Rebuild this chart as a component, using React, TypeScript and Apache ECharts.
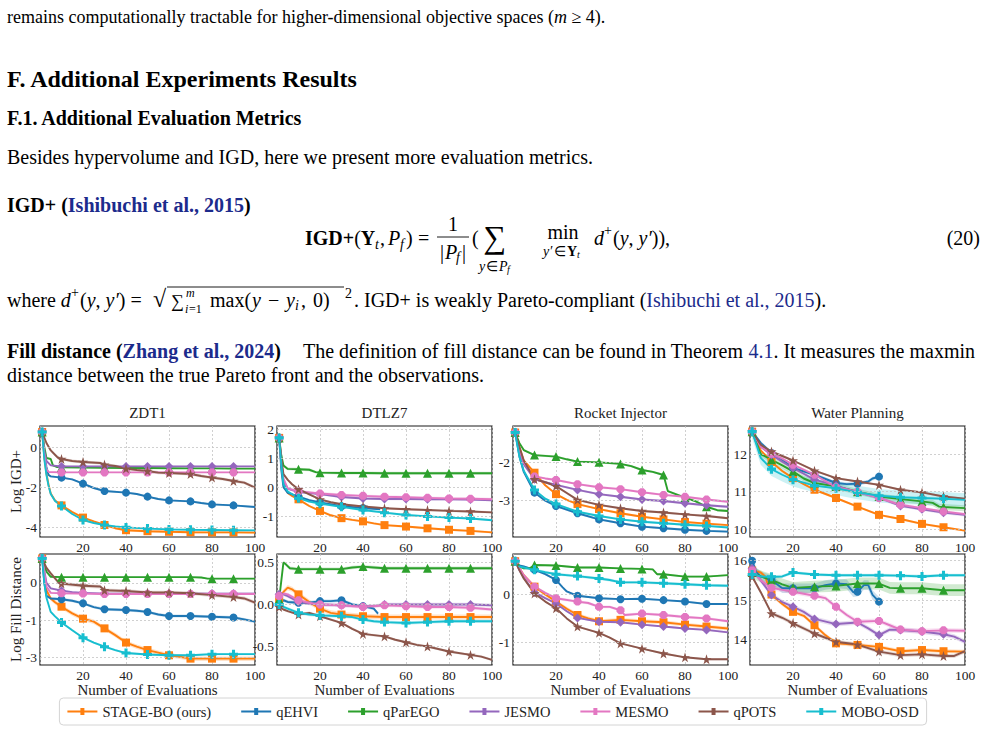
import React, { useEffect, useRef } from 'react';
import * as echarts from 'echarts';

const SERIF = "'Liberation Serif', 'Times New Roman', Times, serif";
const LINK = '#1c2b8c';

const methods = ['STAGE-BO (ours)', 'qEHVI', 'qParEGO', 'JESMO', 'MESMO', 'qPOTS', 'MOBO-OSD'];
const methodColors = ['#ff7f0e', '#1f77b4', '#2ca02c', '#9467bd', '#e377c2', '#8c564b', '#17becf'];
const OCTAGON = 'path://M30,0 H70 L100,30 V70 L70,100 H30 L0,70 V30 Z';
const STAR = 'path://M50,0 L61,35 L98,35 L68,57 L79,91 L50,70 L21,91 L32,57 L2,35 L39,35 Z';
const PLUS = 'path://M33,0 H67 V33 H100 V67 H67 V100 H33 V67 H0 V33 H33 Z';
const methodMarkers = ['rect', 'circle', 'triangle', 'diamond', OCTAGON, STAR, PLUS];
const markerSizes = [8, 8, 9, 9, 8, 10, 9];
const LEGEND_ICON = 'path://M0,4 H30 V6 H0 Z M13,1.5 H17 V8.5 H13 Z';

const problems = ['ZDT1', 'DTLZ7', 'Rocket Injector', 'Water Planning'];
const metricNames = ['Log IGD+', 'Log Fill Distance'];
const markerXs = [1, 10, 20, 30, 40, 50, 60, 70, 80, 90];

type Pt = [number, number];

// ---- Log IGD+ ----
const zdt1Igd: Pt[][] = [
  [[1, 0.75], [2, -0.5], [3, -1.33], [4, -1.9], [5, -2.33], [7, -2.67], [10, -2.92], [15, -3.25], [20, -3.53], [25, -3.72], [30, -3.9], [35, -4.06], [40, -4.16], [50, -4.21], [60, -4.24], [70, -4.26], [80, -4.27], [90, -4.27], [100, -4.28]],
  [[1, 0.75], [2, -0.3], [3, -1.0], [4, -1.4], [5, -1.47], [10, -1.53], [15, -1.62], [20, -1.83], [25, -2.05], [30, -2.2], [40, -2.28], [45, -2.35], [50, -2.48], [55, -2.6], [60, -2.67], [70, -2.72], [75, -2.8], [80, -2.87], [90, -2.92], [100, -3.0]],
  [[1, 0.75], [2, 0.0], [3, -0.55], [5, -0.6], [6, -0.92], [8, -1.0], [10, -1.02], [20, -1.03], [30, -1.04], [40, -1.05], [50, -1.05], [60, -1.06], [70, -1.07], [80, -1.07], [90, -1.08], [100, -1.08]],
  [[1, 0.75], [2, -0.2], [3, -0.7], [5, -0.92], [10, -0.97], [20, -0.97], [30, -0.97], [40, -0.97], [50, -0.97], [60, -0.97], [70, -0.97], [80, -0.97], [90, -0.97], [100, -0.97]],
  [[1, 0.75], [2, -0.4], [3, -1.1], [4, -1.25], [10, -1.27], [20, -1.27], [30, -1.27], [40, -1.27], [50, -1.27], [60, -1.27], [70, -1.27], [80, -1.27], [90, -1.27], [100, -1.27]],
  [[1, 0.75], [3, 0.2], [5, -0.17], [8, -0.5], [10, -0.6], [15, -0.7], [20, -0.75], [28, -0.8], [30, -0.88], [35, -0.95], [40, -1.08], [45, -1.15], [50, -1.2], [55, -1.28], [60, -1.3], [70, -1.35], [75, -1.45], [80, -1.53], [85, -1.6], [90, -1.7], [95, -1.78], [100, -2.03]],
  [[1, 0.75], [2, -0.6], [3, -1.4], [4, -1.95], [5, -2.35], [7, -2.7], [10, -2.95], [15, -3.35], [20, -3.65], [25, -3.8], [30, -3.9], [35, -3.97], [40, -4.02], [50, -4.08], [60, -4.12], [70, -4.14], [80, -4.15], [90, -4.16], [100, -4.17]],
];
const zdt1IgdBand = [0.06, 0.05, 0.03, 0.03, 0.03, 0.08, 0.04];

const dtlz7Igd: Pt[][] = [
  [[1, 1.7], [2, 0.8], [3, 0.1], [5, -0.2], [7, -0.3], [10, -0.42], [15, -0.65], [20, -0.82], [25, -0.97], [30, -1.07], [35, -1.13], [40, -1.18], [45, -1.25], [50, -1.31], [60, -1.36], [70, -1.42], [80, -1.47], [90, -1.51], [100, -1.56]],
  [[1, 1.7], [2, 0.6], [3, 0.0], [5, -0.2], [10, -0.33], [15, -0.45], [20, -0.53], [30, -0.66], [40, -0.72], [48, -0.76]],
  [[1, 1.7], [2, 1.1], [3, 0.75], [5, 0.63], [10, 0.62], [15, 0.6], [18, 0.52], [20, 0.5], [30, 0.49], [40, 0.49], [50, 0.48], [60, 0.48], [70, 0.48], [80, 0.48], [90, 0.48], [100, 0.48]],
  [[1, 1.7], [2, 0.8], [3, 0.2], [5, -0.05], [10, -0.17], [15, -0.2], [20, -0.24], [30, -0.34], [40, -0.39], [50, -0.41], [60, -0.41], [70, -0.42], [80, -0.42], [90, -0.43], [100, -0.45]],
  [[1, 1.7], [2, 0.9], [3, 0.3], [5, -0.05], [10, -0.14], [15, -0.18], [20, -0.22], [30, -0.27], [40, -0.3], [50, -0.33], [60, -0.35], [70, -0.37], [80, -0.39], [90, -0.4], [100, -0.42]],
  [[1, 1.7], [2, 1.0], [3, 0.45], [5, 0.25], [7, 0.1], [10, -0.07], [15, -0.25], [20, -0.42], [25, -0.52], [30, -0.59], [40, -0.67], [50, -0.73], [60, -0.76], [70, -0.79], [80, -0.82], [90, -0.84], [100, -0.87]],
  [[1, 1.7], [2, 0.8], [3, 0.1], [5, -0.15], [10, -0.38], [15, -0.5], [20, -0.57], [30, -0.68], [40, -0.79], [50, -0.88], [60, -0.96], [70, -1.01], [80, -1.05], [90, -1.08], [100, -1.14]],
];
const dtlz7IgdBand = [0.04, 0.04, 0.05, 0.04, 0.05, 0.04, 0.04];

const rocketIgd: Pt[][] = [
  [[1, -1.22], [3, -1.6], [5, -1.95], [10, -2.27], [15, -2.6], [20, -2.83], [25, -2.98], [30, -3.09], [40, -3.22], [50, -3.33], [60, -3.42], [70, -3.49], [80, -3.56], [90, -3.6], [100, -3.64]],
  [[1, -1.22], [3, -1.85], [5, -2.25], [10, -2.79], [15, -3.0], [20, -3.14], [30, -3.33], [40, -3.49], [50, -3.59], [60, -3.68], [70, -3.72], [80, -3.76], [90, -3.79], [100, -3.81]],
  [[1, -1.22], [3, -1.5], [5, -1.68], [10, -1.81], [20, -1.85], [25, -1.92], [30, -1.98], [40, -2.0], [50, -2.04], [55, -2.1], [60, -2.2], [65, -2.25], [70, -2.33], [72, -2.75], [80, -2.92], [85, -3.02], [90, -3.16], [95, -3.25], [100, -3.27]],
  [[1, -1.22], [3, -1.7], [5, -2.05], [10, -2.44], [15, -2.52], [20, -2.59], [30, -2.72], [40, -2.83], [50, -2.9], [60, -2.97], [70, -3.01], [80, -3.07], [90, -3.12], [100, -3.16]],
  [[1, -1.22], [3, -1.65], [5, -2.0], [10, -2.37], [15, -2.42], [20, -2.46], [30, -2.57], [40, -2.65], [50, -2.7], [60, -2.78], [70, -2.85], [80, -2.9], [90, -2.97], [100, -3.03]],
  [[1, -1.22], [3, -1.6], [5, -1.95], [10, -2.44], [15, -2.52], [20, -2.62], [25, -2.8], [30, -2.98], [40, -3.11], [50, -3.2], [60, -3.27], [70, -3.31], [80, -3.36], [90, -3.4], [100, -3.46]],
  [[1, -1.22], [3, -1.85], [5, -2.22], [10, -2.72], [15, -2.95], [20, -3.09], [30, -3.29], [40, -3.4], [50, -3.49], [60, -3.55], [70, -3.59], [80, -3.63], [90, -3.66], [100, -3.7]],
];
const rocketIgdBand = [0.03, 0.03, 0.03, 0.03, 0.03, 0.03, 0.03];

const waterIgd: Pt[][] = [
  [[1, 12.6], [5, 12.1], [10, 11.79], [15, 11.55], [20, 11.36], [25, 11.2], [30, 11.05], [40, 10.83], [50, 10.6], [60, 10.38], [70, 10.27], [80, 10.14], [90, 10.05], [100, 9.96]],
  [[1, 12.6], [5, 12.3], [10, 12.03], [15, 11.85], [20, 11.63], [30, 11.45], [40, 11.23], [45, 11.2], [50, 11.21], [55, 11.27], [57, 11.35], [60, 11.4]],
  [[1, 12.6], [5, 12.0], [10, 11.85], [15, 11.7], [20, 11.54], [25, 11.35], [30, 11.23], [40, 11.14], [50, 11.0], [60, 10.87], [70, 10.8], [80, 10.74], [85, 10.7], [88, 10.6], [90, 10.59], [100, 10.56]],
  [[1, 12.6], [5, 12.2], [10, 11.98], [15, 11.8], [20, 11.63], [30, 11.32], [40, 11.16], [50, 10.98], [60, 10.84], [70, 10.62], [80, 10.53], [90, 10.44], [100, 10.38]],
  [[1, 12.6], [5, 12.2], [10, 12.01], [15, 11.88], [20, 11.72], [30, 11.45], [40, 11.12], [50, 11.0], [60, 10.83], [70, 10.65], [80, 10.56], [90, 10.47], [100, 10.4]],
  [[1, 12.6], [5, 12.25], [10, 12.07], [15, 11.95], [20, 11.83], [30, 11.56], [40, 11.36], [50, 11.27], [60, 11.18], [70, 11.05], [80, 10.98], [90, 10.87], [100, 10.81]],
  [[1, 12.6], [5, 11.9], [10, 11.6], [15, 11.45], [20, 11.32], [30, 11.16], [40, 11.09], [50, 10.98], [60, 10.89], [70, 10.85], [80, 10.83], [90, 10.81], [100, 10.78]],
];
const waterIgdBand = [0.03, 0.05, 0.08, 0.04, 0.04, 0.03, 0.18];

// ---- Log Fill Distance ----
const zdt1Fill: Pt[][] = [
  [[1, 0.65], [2, 0.2], [3, -0.2], [5, -0.42], [7, -0.52], [10, -0.64], [15, -0.82], [20, -0.96], [25, -1.04], [30, -1.22], [35, -1.4], [40, -1.6], [45, -1.71], [50, -1.8], [55, -1.87], [60, -1.94], [65, -1.98], [70, -2.03], [80, -2.03], [90, -2.03], [100, -2.03]],
  [[1, 0.65], [2, 0.0], [3, -0.35], [5, -0.42], [10, -0.44], [15, -0.48], [20, -0.55], [25, -0.65], [30, -0.71], [40, -0.73], [45, -0.75], [50, -0.78], [55, -0.85], [60, -0.89], [70, -0.89], [80, -0.91], [90, -0.93], [95, -0.98], [100, -1.04]],
  [[1, 0.65], [3, 0.3], [5, 0.16], [10, 0.15], [20, 0.15], [30, 0.15], [40, 0.15], [50, 0.15], [60, 0.15], [70, 0.15], [75, 0.14], [78, 0.11], [80, 0.11], [90, 0.11], [100, 0.11]],
  [[1, 0.65], [3, 0.0], [5, -0.15], [10, -0.21], [15, -0.25], [20, -0.27], [30, -0.29], [40, -0.29], [50, -0.29], [60, -0.29], [70, -0.29], [80, -0.29], [90, -0.29], [100, -0.29]],
  [[1, 0.65], [3, -0.1], [5, -0.27], [10, -0.28], [20, -0.29], [30, -0.3], [40, -0.3], [50, -0.3], [60, -0.3], [70, -0.3], [80, -0.3], [90, -0.3], [100, -0.3]],
  [[1, 0.65], [3, 0.4], [5, 0.25], [8, 0.05], [10, -0.02], [20, -0.08], [28, -0.1], [30, -0.2], [40, -0.22], [50, -0.26], [60, -0.26], [70, -0.28], [80, -0.33], [90, -0.38], [95, -0.42], [100, -0.53]],
  [[1, 0.65], [2, 0.0], [3, -0.4], [5, -0.78], [7, -0.9], [10, -1.06], [15, -1.27], [20, -1.47], [25, -1.6], [30, -1.71], [35, -1.8], [40, -1.88], [50, -1.92], [60, -1.94], [70, -1.94], [80, -1.91], [90, -1.91], [100, -1.91]],
];
const zdt1FillBand = [0.06, 0.04, 0.02, 0.03, 0.03, 0.05, 0.03];

const dtlz7Fill: Pt[][] = [
  [[1, 0.05], [3, 0.15], [5, 0.2], [7, 0.18], [10, 0.12], [15, 0.03], [20, -0.05], [25, -0.1], [30, -0.12], [40, -0.14], [50, -0.15], [60, -0.15], [70, -0.15], [80, -0.15], [90, -0.15], [100, -0.15]],
  [[1, 0.0], [3, 0.05], [5, 0.03], [10, 0.02], [15, 0.02], [20, 0.04], [25, 0.04], [30, 0.05], [35, 0.0], [40, -0.02], [45, -0.05], [47, -0.11]],
  [[1, 0.06], [3, 0.5], [4, 0.48], [6, 0.43], [10, 0.42], [20, 0.42], [30, 0.42], [35, 0.44], [40, 0.45], [45, 0.44], [50, 0.43], [60, 0.43], [70, 0.43], [80, 0.43], [90, 0.43], [100, 0.43]],
  [[1, 0.12], [3, 0.12], [5, 0.1], [10, 0.03], [15, 0.01], [20, 0.0], [30, -0.01], [40, -0.02], [45, -0.02], [50, 0.0], [60, 0.0], [70, 0.0], [80, 0.0], [90, 0.0], [100, -0.01]],
  [[1, 0.1], [3, 0.13], [5, 0.12], [10, 0.05], [15, 0.02], [20, 0.0], [30, -0.01], [40, -0.03], [50, -0.01], [60, -0.02], [70, -0.03], [80, -0.03], [90, -0.04], [100, -0.06]],
  [[1, -0.03], [3, -0.06], [5, -0.08], [10, -0.12], [15, -0.1], [20, -0.14], [25, -0.18], [30, -0.22], [35, -0.29], [40, -0.35], [50, -0.38], [55, -0.42], [60, -0.45], [65, -0.48], [70, -0.5], [75, -0.53], [80, -0.56], [90, -0.6], [95, -0.62], [100, -0.66]],
  [[1, 0.0], [3, -0.03], [5, -0.05], [10, -0.1], [15, -0.12], [20, -0.13], [30, -0.14], [35, -0.15], [40, -0.18], [45, -0.2], [50, -0.21], [60, -0.22], [70, -0.21], [80, -0.2], [90, -0.2], [100, -0.2]],
];
const dtlz7FillBand = [0.03, 0.02, 0.02, 0.02, 0.02, 0.015, 0.02];

const rocketFill: Pt[][] = [
  [[1, 0.69], [3, 0.55], [5, 0.4], [10, 0.16], [15, 0.0], [20, -0.15], [25, -0.3], [30, -0.43], [35, -0.5], [40, -0.56], [50, -0.53], [60, -0.56], [70, -0.58], [80, -0.63], [90, -0.67], [100, -0.71]],
  [[1, 0.69], [3, 0.6], [5, 0.58], [10, 0.51], [15, 0.42], [20, 0.3], [23, 0.15], [25, 0.06], [30, -0.03], [40, -0.08], [50, -0.1], [60, -0.09], [70, -0.12], [80, -0.15], [90, -0.2], [100, -0.2]],
  [[1, 0.69], [3, 0.58], [5, 0.54], [8, 0.55], [10, 0.61], [20, 0.6], [30, 0.56], [40, 0.56], [50, 0.54], [60, 0.53], [65, 0.52], [67, 0.42], [70, 0.42], [80, 0.37], [90, 0.37], [100, 0.4]],
  [[1, 0.69], [3, 0.5], [5, 0.35], [10, 0.04], [15, -0.08], [20, -0.19], [25, -0.35], [30, -0.49], [40, -0.57], [50, -0.58], [60, -0.63], [70, -0.67], [80, -0.71], [90, -0.74], [100, -0.79]],
  [[1, 0.69], [3, 0.55], [5, 0.4], [10, 0.16], [15, 0.03], [20, -0.08], [30, -0.15], [35, -0.18], [40, -0.26], [45, -0.26], [50, -0.33], [52, -0.43], [60, -0.4], [70, -0.43], [80, -0.47], [90, -0.5], [100, -0.56]],
  [[1, 0.69], [3, 0.5], [5, 0.33], [10, 0.02], [15, -0.15], [20, -0.29], [25, -0.5], [30, -0.67], [40, -0.8], [45, -0.9], [50, -1.02], [60, -1.13], [70, -1.23], [80, -1.31], [90, -1.35], [100, -1.35]],
  [[1, 0.69], [3, 0.58], [5, 0.56], [10, 0.51], [15, 0.46], [20, 0.42], [30, 0.38], [40, 0.33], [45, 0.3], [50, 0.25], [60, 0.25], [70, 0.23], [80, 0.21], [90, 0.19], [100, 0.18]],
];
const rocketFillBand = [0.04, 0.02, 0.02, 0.02, 0.03, 0.02, 0.03];

const waterFill: Pt[][] = [
  [[1, 15.75], [5, 15.7], [7, 15.6], [10, 15.14], [15, 14.9], [20, 14.7], [25, 14.6], [30, 14.36], [35, 14.11], [40, 13.9], [50, 13.86], [60, 13.81], [70, 13.7], [80, 13.73], [90, 13.7], [100, 13.69]],
  [[1, 16.0], [3, 15.7], [5, 15.6], [10, 15.51], [15, 15.3], [20, 15.3], [30, 15.3], [35, 15.38], [40, 15.42], [45, 15.4], [48, 15.2], [50, 15.21], [53, 15.38], [55, 15.38], [57, 15.13], [60, 14.96]],
  [[1, 15.7], [5, 15.6], [10, 15.51], [15, 15.4], [20, 15.31], [30, 15.34], [40, 15.36], [50, 15.42], [60, 15.42], [65, 15.31], [70, 15.3], [80, 15.3], [90, 15.25], [100, 15.25]],
  [[1, 15.8], [5, 15.5], [10, 15.13], [15, 14.95], [20, 14.83], [25, 14.7], [30, 14.52], [40, 14.39], [50, 14.43], [55, 14.28], [60, 14.11], [65, 14.25], [70, 14.24], [80, 14.2], [90, 14.13], [95, 14.07], [100, 13.94]],
  [[1, 15.75], [5, 15.5], [10, 15.31], [20, 15.21], [30, 15.11], [35, 15.05], [40, 14.83], [45, 14.62], [50, 14.45], [60, 14.47], [65, 14.36], [70, 14.25], [80, 14.21], [90, 14.23], [100, 14.22]],
  [[1, 15.6], [5, 15.2], [10, 14.66], [15, 14.55], [20, 14.41], [30, 14.15], [40, 13.94], [50, 13.87], [55, 13.78], [60, 13.69], [70, 13.6], [80, 13.62], [90, 13.58], [95, 13.58], [100, 13.7]],
  [[1, 15.65], [5, 15.6], [10, 15.59], [15, 15.6], [20, 15.7], [30, 15.65], [40, 15.63], [50, 15.63], [60, 15.63], [70, 15.62], [80, 15.6], [90, 15.63], [100, 15.63]],
];
const waterFillBand = [0.05, 0.12, 0.15, 0.06, 0.06, 0.05, 0.04];

// axis limits and labelled y ticks of each panel (row by row)
const yRanges: Pt[] = [[-4.5, 1.05], [-1.72, 2.11], [-3.95, -1.05], [9.79, 12.75], [-2.2, 0.77], [-0.72, 0.6], [-1.47, 0.84], [13.35, 16.17]];
const yTickValues = [[-4, -2, 0], [-1, 0, 1, 2], [-3, -2], [10, 11, 12], [-2, -1, 0], [-0.5, 0, 0.5], [-1, 0], [14, 15, 16]];
const yTickLabels = [['-4', '-2', '0'], ['-1', '0', '1', '2'], ['-3', '-2'], ['10', '11', '12'], ['-3', '-1', '0'], ['-0.5', '0.0', '0.5'], ['-1', '0'], ['14', '15', '16']];

const panelData = [zdt1Igd, dtlz7Igd, rocketIgd, waterIgd, zdt1Fill, dtlz7Fill, rocketFill, waterFill];
const panelBands = [zdt1IgdBand, dtlz7IgdBand, rocketIgdBand, waterIgdBand, zdt1FillBand, dtlz7FillBand, rocketFillBand, waterFillBand];

// layout of the 2 x 4 panel grid
const COL_LEFT = [40, 277, 513, 750];
const ROW_TOP = [426, 554];
const PANEL_W = 215;
const PANEL_H = 111;

function rgba(hex: string, a: number) {
  const n = parseInt(hex.slice(1), 16);
  return `rgba(${(n >> 16) & 255},${(n >> 8) & 255},${n & 255},${a})`;
}

type TOpts = { size?: number; bold?: boolean; italic?: boolean; color?: string; align?: string };
function t(text: string, x: number, y: number, o: TOpts = {}) {
  return {
    type: 'text', x, y, silent: true,
    style: {
      text, fill: o.color || '#000', fontSize: o.size || 20, fontFamily: SERIF,
      fontWeight: o.bold ? 'bold' : 'normal', fontStyle: o.italic ? 'italic' : 'normal',
      align: o.align || 'left', verticalAlign: 'middle',
    },
  };
}
function rich(text: string, x: number, y: number, size = 20) {
  const base = { fontFamily: SERIF, fontSize: size, fill: '#000' };
  return {
    type: 'text', x, y, silent: true,
    style: {
      text, fontFamily: SERIF, fontSize: size, fill: '#000', align: 'left', verticalAlign: 'middle',
      rich: {
        n: { ...base },
        i: { ...base, fontStyle: 'italic' },
        b: { ...base, fontWeight: 'bold' },
        l: { ...base, fill: LINK },
        bl: { ...base, fontWeight: 'bold', fill: LINK },
      },
    },
  };
}
function hline(x1: number, x2: number, y: number, w = 0.9) {
  return { type: 'line', silent: true, shape: { x1, y1: y, x2, y2: y }, style: { stroke: '#000', lineWidth: w } };
}

function pageText() {
  return [
    rich('{n|remains computationally tractable for higher-dimensional objective spaces (}{i|m}{n| ≥ 4).}', 7, 17, 18),
    t('F. Additional Experiments Results', 7, 79, { size: 24, bold: true }),
    t('F.1. Additional Evaluation Metrics', 7, 118, { size: 20, bold: true }),
    t('Besides hypervolume and IGD, here we present more evaluation metrics.', 7, 157),
    rich('{b|IGD+ (}{bl|Ishibuchi et al., 2015}{b|)}', 7, 205),
    // equation (20)
    rich('{b|IGD+}{n|(}{b|Y}', 305, 238),
    t('t', 375, 244, { size: 14, italic: true }),
    t(',', 380, 238),
    t('P', 388, 238, { italic: true }),
    t('f', 400, 244, { size: 14, italic: true }),
    t(')', 406, 238),
    t('=', 418, 238),
    t('1', 453, 224, { align: 'center' }),
    hline(437, 469, 237),
    t('|', 440, 252), t('P', 445, 252, { italic: true }), t('f', 456, 257, { size: 14, italic: true }), t('|', 462, 252),
    t('(', 472, 238),
    t('∑', 495, 237, { size: 32, align: 'center' }),
    t('y', 479, 266, { size: 14, italic: true }), t('∈', 486, 266, { size: 14 }), t('P', 499, 266, { size: 14, italic: true }), t('f', 507, 269, { size: 10, italic: true }),
    t('min', 563, 232, { align: 'center' }),
    t('y′', 543, 251, { size: 14, italic: true }), t('∈', 554, 251, { size: 14 }), t('Y', 567, 251, { size: 14, bold: true }), t('t', 577, 254, { size: 10, italic: true }),
    t('d', 594, 238, { italic: true }),
    t('+', 604, 230, { size: 14 }),
    rich('{n|(}{i|y}{n|, }{i|y′}{n|)),}', 613, 238),
    t('(20)', 980, 238, { align: 'right' }),
    // where d+ ...
    rich('{n|where }{i|d}', 7, 300),
    t('+', 71, 292, { size: 14 }),
    rich('{n|(}{i|y}{n|, }{i|y′}{n|) =}', 80, 300),
    t('√', 153, 299, { size: 24 }),
    hline(167, 344, 287),
    t('∑', 171, 301, { size: 18 }),
    t('m', 186, 293, { size: 12, italic: true }),
    t('i', 185, 309, { size: 12, italic: true }), t('=1', 189, 309, { size: 12 }),
    t('max(', 210, 300),
    t('y', 252, 300, { italic: true }),
    t('−', 268, 300),
    t('y', 286, 300, { italic: true }),
    t('i', 295, 305, { size: 14, italic: true }),
    t(',', 301, 300),
    t('0)', 313, 300),
    t('2', 345, 293, { size: 14 }),
    rich('{n|. IGD+ is weakly Pareto-compliant (}{l|Ishibuchi et al., 2015}{n|).}', 354, 300),
    // fill distance paragraph
    rich('{b|Fill distance (}{bl|Zhang et al., 2024}{b|)}', 7, 351),
    rich('{n|The definition of fill distance can be found in Theorem }{l|4.1}{n|. It measures the maxmin}', 303, 351),
    t('distance between the true Pareto front and the observations.', 7, 375),
  ];
}

function buildOption() {
  const grids: any[] = [];
  const xAxes: any[] = [];
  const yAxes: any[] = [];
  const series: any[] = [];
  const graphics: any[] = pageText();

  panelData.forEach((panel, gi) => {
    const row = Math.floor(gi / 4);
    const col = gi % 4;
    grids.push({
      left: COL_LEFT[col], top: ROW_TOP[row], width: PANEL_W, height: PANEL_H,
      show: true, borderColor: '#1a1a1a', borderWidth: 1.2, backgroundColor: '#fff', containLabel: false,
    });
    xAxes.push({
      type: 'value', gridIndex: gi, min: 0, max: 100, interval: 20,
      axisLine: { show: false }, axisTick: { show: false },
      axisLabel: {
        fontFamily: SERIF, fontSize: 13.5, color: '#222', margin: 3,
        formatter: (v: number) => (v === 0 ? '' : String(v)),
      },
      splitLine: { show: true, lineStyle: { color: '#c4c4c4', type: [2, 2], width: 0.8 } },
      name: row === 1 ? 'Number of Evaluations' : '',
      nameLocation: 'middle', nameGap: 14,
      nameTextStyle: { fontFamily: SERIF, fontSize: 15, color: '#222' },
    });
    yAxes.push({
      type: 'value', gridIndex: gi, min: yRanges[gi][0], max: yRanges[gi][1],
      axisLine: { show: false }, axisTick: { show: false }, axisLabel: { show: false }, splitLine: { show: false },
      name: col === 0 ? metricNames[row] : '',
      nameLocation: 'middle', nameGap: 17, nameRotate: 90,
      nameTextStyle: { fontFamily: SERIF, fontSize: 15, color: '#222' },
    });
    if (row === 0) {
      graphics.push(t(problems[col], COL_LEFT[col] + PANEL_W / 2, ROW_TOP[0] - 13, { size: 15, align: 'center', color: '#222' }));
    }

    // horizontal grid lines with their tick labels
    series.push({
      type: 'line', xAxisIndex: gi, yAxisIndex: gi, data: [[0, yRanges[gi][0]]], symbol: 'none',
      lineStyle: { opacity: 0 }, silent: true, z: 1,
      markLine: {
        silent: true, symbol: ['none', 'none'], animation: false,
        lineStyle: { color: '#c4c4c4', type: [2, 2], width: 0.8 },
        label: { show: true, position: 'start', color: '#222', fontFamily: SERIF, fontSize: 13.5, distance: 3 },
        emphasis: { disabled: true },
        data: yTickValues[gi].map((v, i) => ({ yAxis: v, label: { formatter: yTickLabels[gi][i] } })),
      },
    });

    // shaded spread around each mean curve, drawn as one polygon per method
    panel.forEach((pts, k) => {
      const w = panelBands[gi][k];
      const spread = pts.map(([x, y]) => [x, y - w, y + w]);
      const fill = rgba(methodColors[k], 0.22);
      series.push({
        type: 'custom', xAxisIndex: gi, yAxisIndex: gi, silent: true, z: 2,
        data: spread, encode: { x: 0, y: [1, 2] },
        renderItem: (params: any, api: any) => {
          if (params.dataIndex !== 0) return null;
          const upper = spread.map((p) => api.coord([p[0], p[2]]));
          const lower = spread.map((p) => api.coord([p[0], p[1]])).reverse();
          return { type: 'polygon', shape: { points: upper.concat(lower) }, style: { fill, stroke: 'none' } };
        },
      });
    });

    // mean curves with markers every ten evaluations
    panel.forEach((pts, k) => {
      const lastX = pts[pts.length - 1][0];
      series.push({
        type: 'line', name: methods[k], xAxisIndex: gi, yAxisIndex: gi,
        data: pts.map(([x, y]) => ({
          value: [x, y],
          symbol: markerXs.includes(x) || (lastX < 100 && x === lastX && x % 10 === 0) ? methodMarkers[k] : 'none',
        })),
        symbol: methodMarkers[k], symbolSize: markerSizes[k], showSymbol: true, showAllSymbol: true,
        lineStyle: { width: 1.9, color: methodColors[k] },
        itemStyle: { color: methodColors[k], borderWidth: 0 },
        z: 3, silent: true,
      });
    });
  });

  return {
    animation: false,
    backgroundColor: '#fff',
    grid: grids,
    xAxis: xAxes,
    yAxis: yAxes,
    series,
    legend: {
      data: methods.map((n, k) => ({ name: n, icon: LEGEND_ICON, itemStyle: { color: methodColors[k] } })),
      left: 'center', top: 698,
      itemWidth: 30, itemHeight: 10, itemGap: 30,
      textStyle: { fontFamily: SERIF, fontSize: 14.5, color: '#222' },
      borderColor: '#d4d4d4', borderWidth: 1, borderRadius: 4, padding: [6, 8],
      selectedMode: false,
    },
    graphic: { elements: graphics },
  };
}

export default function App() {
  const ref = useRef<HTMLDivElement>(null);
  useEffect(() => {
    if (!ref.current) return;
    const chart = echarts.init(ref.current, undefined, { renderer: 'svg' });
    chart.setOption(buildOption() as any);
    return () => chart.dispose();
  }, []);
  return <div ref={ref} style={{ position: 'fixed', left: 0, top: 0, width: 986, height: 732, background: '#fff' }} />;
}
